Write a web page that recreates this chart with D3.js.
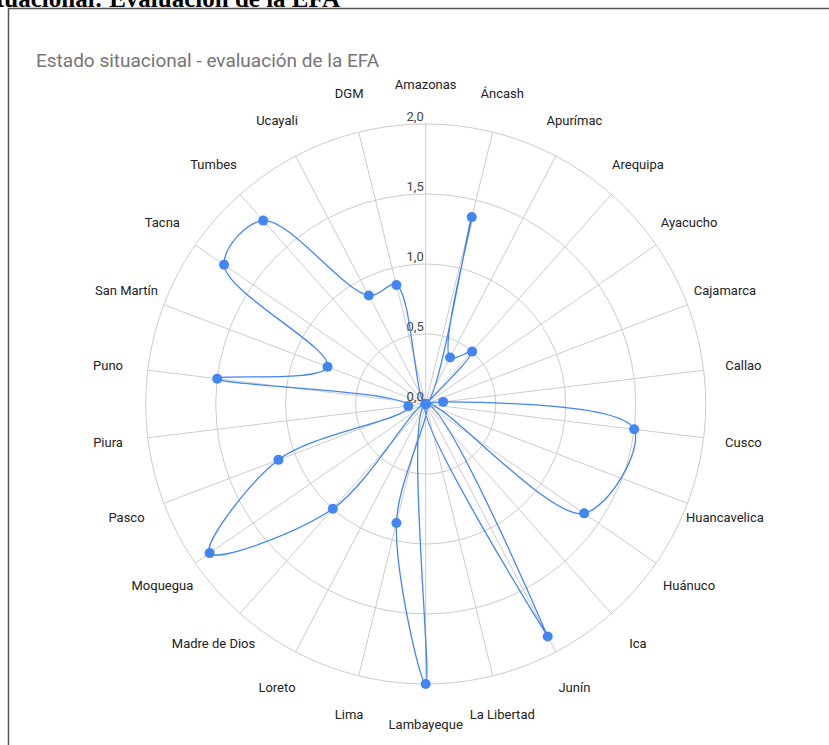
<!DOCTYPE html>
<html>
<head>
<meta charset="utf-8">
<script src="https://cdn.jsdelivr.net/npm/d3@7"></script>
<style>
  body { margin: 0; background: #fff; }
  svg { display: block; }
</style>
</head>
<body>
<svg id="chart" width="829" height="745"></svg>
<script>
// Regions evaluated, clockwise from the top
const regions = ["Amazonas", "Áncash", "Apurímac", "Arequipa", "Ayacucho", "Cajamarca",
  "Callao", "Cusco", "Huancavelica", "Huánuco", "Ica", "Junín", "La Libertad",
  "Lambayeque", "Lima", "Loreto", "Madre de Dios", "Moquegua", "Pasco", "Piura",
  "Puno", "San Martín", "Tacna", "Tumbes", "Ucayali", "DGM"];

// Score per region (null = no data, skipped by the line)
const scores = [0, 1.375, 0.375, 0.5, 0, 0,
  0.125, 1.5, null, 1.375, 0, 1.875, 0,
  2, 0.875, 0, 1, 1.875, 1.125, 0.125,
  1.5, 0.75, 1.75, 1.75, 0.875, 0.875];

// Radial gridlines and their labels
const ringValues = [0, 0.5, 1, 1.5, 2];
const ringLabels = ["0,0", "0,5", "1,0", "1,5", "2,0"];

const chartTitle = "Estado situacional - evaluación de la EFA";
const pageHeading = "Estado situacional: Evaluación de la EFA";

const svg = d3.select("#chart");
const cx = 425.7, cy = 404, outerR = 280, labelR = 320;
const blue = "#4285f4";

// Page heading clipped at the top edge
svg.append("text")
  .attr("x", 340).attr("y", 7)
  .attr("text-anchor", "end")
  .attr("font-family", "Liberation Serif, serif")
  .attr("font-weight", "bold")
  .attr("font-size", 25)
  .attr("fill", "#000")
  .text(pageHeading);

// Frame around the chart (top and left edges visible)
svg.append("path")
  .attr("d", "M8.5,745 V8.5 H829")
  .attr("fill", "none")
  .attr("stroke", "#555")
  .attr("stroke-width", 1.5);

svg.append("text")
  .attr("x", 36).attr("y", 67)
  .attr("font-family", "Roboto, sans-serif")
  .attr("font-size", 19)
  .attr("fill", "#757575")
  .text(chartTitle);

const angle = d3.scalePoint()
  .domain(regions)
  .range([0, 2 * Math.PI * (regions.length - 1) / regions.length]);
const r = d3.scaleLinear().domain([0, 2]).range([0, outerR]);

const g = svg.append("g").attr("transform", `translate(${cx},${cy})`);

// Spokes
g.selectAll("line.spoke")
  .data(regions)
  .join("line")
  .attr("class", "spoke")
  .attr("x1", 0).attr("y1", 0)
  .attr("x2", d => r(2) * Math.sin(angle(d)))
  .attr("y2", d => -r(2) * Math.cos(angle(d)))
  .attr("stroke", "#cccccc")
  .attr("stroke-width", 1);

// Rings
g.selectAll("circle.ring")
  .data(ringValues.filter(v => v > 0))
  .join("circle")
  .attr("class", "ring")
  .attr("r", d => r(d))
  .attr("fill", "none")
  .attr("stroke", "#cccccc")
  .attr("stroke-width", 1);

// Ring value labels along the top spoke
g.selectAll("text.ring-label")
  .data(ringValues)
  .join("text")
  .attr("class", "ring-label")
  .attr("x", -2)
  .attr("y", d => -r(d) - 3)
  .attr("text-anchor", "end")
  .attr("font-family", "Roboto, sans-serif")
  .attr("font-size", 13)
  .attr("fill", "#444")
  .text((d, i) => ringLabels[i]);

// Category labels
g.selectAll("text.cat")
  .data(regions)
  .join("text")
  .attr("class", "cat")
  .attr("x", d => labelR * Math.sin(angle(d)))
  .attr("y", d => -labelR * Math.cos(angle(d)))
  .attr("text-anchor", "middle")
  .attr("dominant-baseline", "central")
  .attr("font-family", "Roboto, sans-serif")
  .attr("font-size", 13)
  .attr("fill", "#222")
  .text(d => d);

const points = regions
  .map((name, i) => ({ name, value: scores[i] }))
  .filter(d => d.value !== null);

const line = d3.lineRadial()
  .angle(d => angle(d.name))
  .radius(d => r(d.value))
  .curve(d3.curveCatmullRomClosed.alpha(0.5));

g.append("path")
  .datum(points)
  .attr("d", line)
  .attr("fill", "none")
  .attr("stroke", blue)
  .attr("stroke-width", 1.3);

g.selectAll("circle.pt")
  .data(points)
  .join("circle")
  .attr("class", "pt")
  .attr("cx", d => r(d.value) * Math.sin(angle(d.name)))
  .attr("cy", d => -r(d.value) * Math.cos(angle(d.name)))
  .attr("r", 5)
  .attr("fill", blue);
</script>
</body>
</html>
